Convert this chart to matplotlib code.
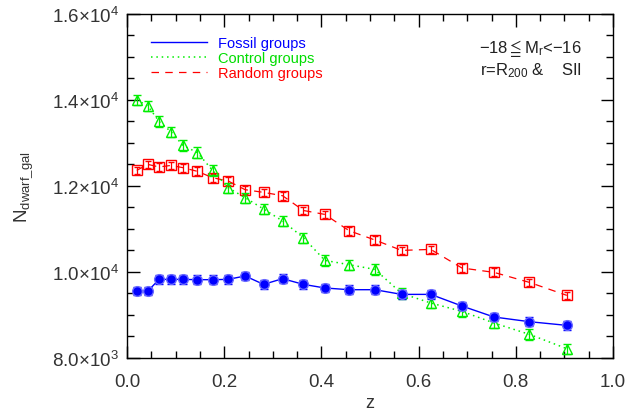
import matplotlib
matplotlib.use("Agg")
import matplotlib.pyplot as plt
from matplotlib.ticker import MultipleLocator, FuncFormatter
from matplotlib.lines import Line2D
import math

z = [0.020, 0.043, 0.066, 0.091, 0.115, 0.145, 0.176, 0.208, 0.243, 0.281,
     0.320, 0.363, 0.407, 0.457, 0.510, 0.565, 0.625, 0.689, 0.755, 0.828, 0.905]

fossil = [9558, 9558, 9828, 9828, 9828, 9821, 9821, 9828, 9907, 9712,
          9844, 9712, 9628, 9588, 9588, 9479, 9479, 9209, 8953, 8844, 8758]
fossil_err = [100, 100, 100, 100, 100, 100, 100, 100, 100, 100,
              100, 100, 100, 100, 100, 100, 100, 100, 100, 100, 100]

control = [14005, 13858, 13502, 13256, 12944, 12775, 12363, 11960, 11728, 11465,
           11186, 10798, 10270, 10170, 10060, 9502, 9279, 9084, 8814, 8549, 8216]
control_err = [120, 120, 120, 120, 120, 120, 120, 120, 120, 120,
               120, 120, 120, 120, 120, 120, 120, 120, 120, 120, 120]

random_ = [12363, 12502, 12442, 12479, 12426, 12340, 12193, 12116, 11914, 11851,
           11774, 11430, 11339, 10960, 10744, 10502, 10525, 10093, 9991, 9758, 9456]
random_err = [90, 90, 90, 90, 90, 90, 90, 90, 90, 90,
              90, 90, 90, 90, 90, 90, 90, 90, 90, 90, 90]

series_labels = ["Fossil groups", "Control groups", "Random groups"]

plt.rcParams['font.family'] = ['Liberation Sans', 'DejaVu Sans']
plt.rcParams['mathtext.fontset'] = 'custom'
plt.rcParams['mathtext.rm'] = 'Liberation Sans'
plt.rcParams['mathtext.it'] = 'Liberation Sans'

fig = plt.figure(figsize=(6.31, 4.14), dpi=100)
ax = fig.add_axes([0.2013, 0.1329, 0.7702, 0.8309])

ax.errorbar(z, random_, yerr=random_err, color='red', ls=(0, (6, 5)), lw=0.9,
            marker='s', ms=7.5, mfc='none', mec='red', mew=1.0,
            ecolor='red', elinewidth=0.9, capsize=2.5, capthick=0.9, zorder=3)
ax.errorbar(z, control, yerr=control_err, color='#00ee00', ls=(0, (1, 2.5)), lw=1.1,
            marker='^', ms=7.5, mfc='none', mec='#00ee00', mew=1.0,
            ecolor='#00ee00', elinewidth=0.9, capsize=3, capthick=0.9, zorder=3)
ax.errorbar(z, fossil, yerr=fossil_err, color='blue', ls='-', lw=1.0,
            marker='o', ms=7, mfc='blue', mec='#6a6aff', mew=1.0,
            ecolor='blue', elinewidth=1.0, capsize=3, capthick=1.0, zorder=4)

ax.set_xlim(0.0, 1.0)
ax.set_ylim(8000, 16000)
ax.xaxis.set_major_locator(MultipleLocator(0.2))
ax.xaxis.set_minor_locator(MultipleLocator(0.05))
ax.yaxis.set_major_locator(MultipleLocator(2000))
ax.yaxis.set_minor_locator(MultipleLocator(500))

def yfmt(v, pos):
    if v <= 0:
        return ''
    e = int(math.floor(math.log10(v) + 1e-9))
    m = v / 10 ** e
    return r'%.1f$\times$10$^{%d}$' % (m, e)

ax.yaxis.set_major_formatter(FuncFormatter(yfmt))
ax.xaxis.set_major_formatter(FuncFormatter(lambda v, p: '%.1f' % v))

ax.tick_params(which='both', direction='in', top=True, right=True,
               labelsize=13.5, labelcolor='#333333', width=1.0)
ax.tick_params(which='major', length=9)
ax.tick_params(which='minor', length=5)
ax.tick_params(axis='x', pad=11)
ax.tick_params(axis='y', pad=6)
for s in ax.spines.values():
    s.set_linewidth(1.0)

ax.set_xlabel('z', fontsize=13, color='#333333', labelpad=3)
ax.set_ylabel(r'N$_{\rm dwarf\_gal}$', fontsize=13.5, color='#333333', labelpad=12)

handles = [Line2D([], [], color='blue', lw=1.0, ls='-'),
           Line2D([], [], color='#00ee00', lw=1.1, ls=(0, (1, 2.5))),
           Line2D([], [], color='red', lw=0.9, ls=(0, (6, 5)))]
leg = ax.legend(handles, series_labels, loc='upper left', frameon=False,
                fontsize=10.5, handlelength=3.8, handletextpad=0.75,
                labelspacing=0.05, borderaxespad=0.0, borderpad=0.0,
                bbox_to_anchor=(0.05, 0.935))
for t, c in zip(leg.get_texts(), ['blue', '#00dd00', 'red']):
    t.set_color(c)

ax.text(0.936, 0.873, r'$-$18$\leqq$M$_r$<$-$16', transform=ax.transAxes,
        ha='right', va='bottom', fontsize=12, color='#222222')
ax.text(0.936, 0.81, r'r=R$_{200}$ &    SII', transform=ax.transAxes,
        ha='right', va='bottom', fontsize=12, color='#222222')

fig.savefig('out.png', dpi=100)
